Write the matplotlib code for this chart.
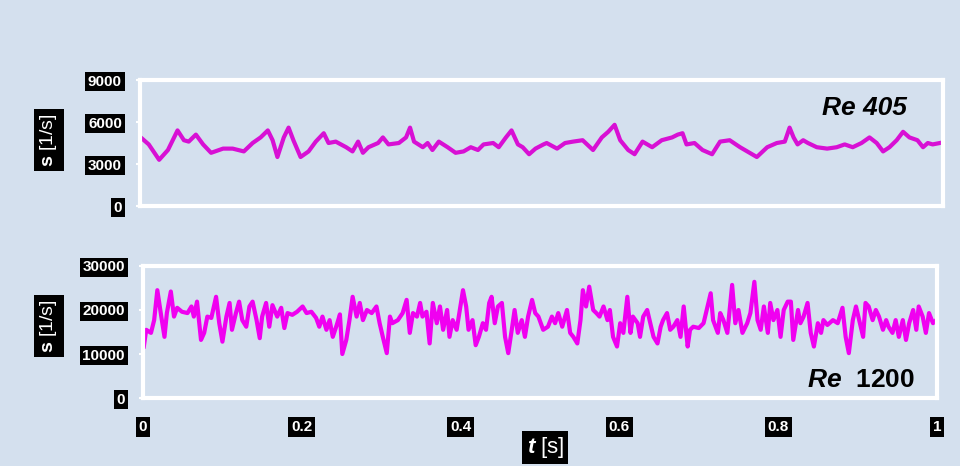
import numpy as np
import matplotlib.pyplot as plt

plt.rcParams['font.family'] = ['Liberation Sans', 'DejaVu Sans']
plt.rcParams['mathtext.fontset'] = 'custom'
plt.rcParams['mathtext.rm'] = 'Liberation Sans'
plt.rcParams['mathtext.bf'] = 'Liberation Sans:bold'
plt.rcParams['mathtext.it'] = 'Liberation Sans:italic'
plt.rcParams['mathtext.bfit'] = 'Liberation Sans:bold:italic'

# strain rate traces, time in ms, s in 1/s
t_405 = [0, 10, 23, 34, 46, 54, 60, 69, 78, 88,
         103, 115, 129, 140, 150, 159, 165, 171, 179, 185,
         191, 200, 210, 219, 229, 235, 244, 257, 265, 272,
         278, 285, 297, 303, 310, 323, 332, 337, 342, 353,
         359, 365, 373, 384, 394, 404, 413, 422, 429, 441,
         448, 457, 464, 472, 478, 486, 494, 504, 508, 521,
         531, 541, 553, 566, 577, 585, 593, 600, 610, 618,
         628, 640, 652, 665, 672, 678, 683, 693, 703, 715,
         725, 737, 750, 762, 771, 784, 796, 806, 812, 817,
         822, 829, 835, 846, 859, 871, 881, 891, 902, 912,
         921, 929, 937, 946, 954, 962, 972, 979, 985, 991, 1000]
s_405 = [4900, 4400, 3300, 4000, 5400, 4700, 4600, 5100, 4400, 3800,
         4100, 4100, 3900, 4500, 4900, 5400, 4700, 3500, 4900, 5600,
         4700, 3500, 3900, 4600, 5200, 4500, 4600, 4200, 3900, 4600,
         3800, 4200, 4500, 4900, 4400, 4500, 4900, 5600, 4600, 4200,
         4500, 4000, 4600, 4200, 3800, 3900, 4200, 4000, 4400, 4500,
         4200, 4900, 5400, 4400, 4200, 3700, 4100, 4400, 4500, 4100,
         4500, 4600, 4700, 4000, 4900, 5300, 5800, 4700, 4000, 3700,
         4600, 4200, 4700, 4900, 5100, 5200, 4400, 4500, 4000, 3700,
         4600, 4700, 4200, 3800, 3500, 4200, 4500, 4600, 5600, 4900,
         4400, 4700, 4500, 4200, 4100, 4200, 4400, 4200, 4500, 4900,
         4500, 3900, 4200, 4700, 5300, 4900, 4700, 4200, 4500, 4400, 4500]

t_1200 = [1, 4, 10, 14, 18, 23, 27, 30, 35, 39,
          43, 49, 56, 61, 64, 68, 73, 77, 81, 86,
          92, 96, 100, 105, 109, 112, 117, 121, 125, 130,
          134, 138, 143, 147, 150, 155, 159, 163, 169, 174,
          178, 182, 188, 194, 201, 206, 212, 218, 222, 226,
          231, 235, 239, 244, 248, 251, 256, 260, 264, 269,
          273, 277, 282, 288, 294, 298, 302, 307, 311, 314,
          321, 327, 332, 336, 340, 345, 349, 352, 357, 361,
          365, 370, 374, 378, 383, 386, 390, 395, 399, 403,
          407, 410, 415, 419, 423, 428, 432, 436, 439, 443,
          447, 452, 456, 460, 465, 468, 472, 477, 481, 485,
          490, 494, 498, 504, 510, 515, 519, 523, 528, 534,
          538, 542, 547, 551, 554, 558, 562, 567, 571, 575,
          580, 585, 588, 592, 597, 601, 605, 610, 614, 617,
          623, 626, 630, 635, 639, 643, 648, 652, 655, 660,
          664, 668, 673, 677, 681, 686, 689, 693, 700, 706,
          711, 715, 718, 724, 727, 731, 736, 742, 746, 750,
          755, 761, 765, 770, 774, 778, 782, 787, 790, 794,
          799, 803, 807, 812, 816, 819, 825, 828, 832, 837,
          841, 845, 850, 854, 857, 862, 869, 875, 881, 885,
          889, 894, 898, 902, 907, 910, 914, 919, 923, 927,
          932, 936, 939, 944, 948, 952, 957, 961, 965, 970,
          974, 977, 982, 986, 990, 995, 999]
s_1200 = [11700, 15500, 14800, 17700, 24500, 18500, 13900, 19300, 24200, 18500,
          20500, 19600, 19300, 20800, 18500, 21900, 13200, 14800, 18500, 18200,
          23000, 17000, 12800, 18500, 21600, 15500, 19300, 21900, 17700, 16200,
          20800, 21900, 17700, 13600, 18500, 21600, 16200, 21100, 18500, 20500,
          15900, 19300, 18900, 19600, 20800, 19300, 19600, 18200, 16200, 18500,
          15500, 17700, 13900, 16600, 19000, 10000, 13200, 17700, 23000, 18500,
          21600, 17700, 20000, 19300, 20800, 17000, 13900, 10200, 18500, 17000,
          17700, 19300, 22300, 14800, 19300, 18500, 21600, 18500, 19600, 12400,
          21600, 17000, 20800, 15500, 20000, 13900, 17700, 15500, 20000, 24500,
          20800, 15500, 17700, 12000, 13900, 17000, 15500, 21600, 23000, 17000,
          20800, 21600, 13900, 10200, 16200, 20000, 14800, 17700, 13900, 18500,
          22300, 19300, 18500, 15500, 16200, 18500, 17000, 19300, 16200, 20000,
          14800, 13900, 12400, 17700, 24500, 20800, 25300, 20000, 19300, 18500,
          20800, 17700, 20000, 13900, 11700, 17000, 14800, 23000, 14800, 18500,
          17000, 13900, 18500, 20000, 17000, 13900, 12400, 16200, 17700, 19300,
          15500, 16200, 17700, 13900, 20800, 11700, 15500, 16200, 15900, 17000,
          20800, 23800, 17700, 14800, 19300, 17700, 14800, 25700, 17000, 20000,
          14800, 17000, 19300, 26400, 17700, 15500, 20800, 14800, 21600, 17700,
          20000, 13900, 20000, 21900, 21900, 13200, 20000, 17000, 18500, 21600,
          14800, 11700, 17000, 14800, 17700, 16600, 17700, 17000, 20500, 13900,
          10200, 17700, 20800, 17700, 13900, 21600, 20800, 17700, 20000, 18500,
          15500, 17700, 16200, 14800, 17700, 13900, 17700, 13200, 17000, 20000,
          15500, 20800, 18500, 14800, 19300, 17000, 17700]

top_ticks = [0, 3000, 6000, 9000]
bot_ticks = [0, 10000, 20000, 30000]
x_ticks = [0, 0.2, 0.4, 0.6, 0.8, 1]
x_labels = ['0', '0.2', '0.4', '0.6', '0.8', '1']

bg = '#d4e0ee'
fig = plt.figure(figsize=(9.6, 4.66), dpi=100, facecolor=bg)

ax1 = fig.add_axes([0.1458, 0.5579, 0.8365, 0.2704], facecolor=bg)
ax2 = fig.add_axes([0.149, 0.1459, 0.827, 0.2833], facecolor=bg)

ax1.plot(np.array(t_405) / 1000, s_405, color='#d810d4', lw=3)
ax2.plot(np.array(t_1200) / 1000, s_1200, color='#f000f0', lw=3)

ax1.set_xlim(-0.001, 1.004)
ax1.set_ylim(0, 9000)
ax1.set_xticks([])
ax1.set_yticks(top_ticks)

ax2.set_xlim(0, 1)
ax2.set_ylim(0, 30000)
ax2.set_yticks(bot_ticks)
ax2.set_xticks(x_ticks)
ax2.set_xticklabels(x_labels)

box = dict(facecolor='black', edgecolor='none', pad=2)
for ax in (ax1, ax2):
    for sp in ax.spines.values():
        sp.set_color('white')
        sp.set_linewidth(3)
    ax.tick_params(axis='y', colors='white', length=3, width=1.5, pad=10)
    ax.tick_params(axis='x', colors='white', length=0, pad=16)
    for lab in ax.get_yticklabels() + ax.get_xticklabels():
        lab.set_color('white')
        lab.set_fontweight('bold')
        lab.set_fontsize(11)
        lab.set_bbox(box)

ax1.text(0.955, 0.78, 'Re 405', transform=ax1.transAxes, ha='right', va='center',
         fontsize=19, fontweight='bold', fontstyle='italic', color='black')
ax2.text(0.972, 0.14, r'$\mathbfit{Re}$  1200', transform=ax2.transAxes, ha='right',
         va='center', fontsize=19, fontweight='bold', color='black')

fig.text(0.051, 0.30, r'$\mathbf{s}$ [1/s]', rotation=90, ha='center', va='center',
         fontsize=14, color='white', bbox=dict(facecolor='black', edgecolor='none', pad=3))
fig.text(0.051, 0.70, r'$\mathbf{s}$ [1/s]', rotation=90, ha='center', va='center',
         fontsize=14, color='white', bbox=dict(facecolor='black', edgecolor='none', pad=3))
fig.text(0.568, 0.04, r'$\mathbfit{t}$ [s]', ha='center', va='center',
         fontsize=16, color='white', bbox=dict(facecolor='black', edgecolor='none', pad=3))

fig.savefig('out.png', dpi=100, facecolor=bg)
